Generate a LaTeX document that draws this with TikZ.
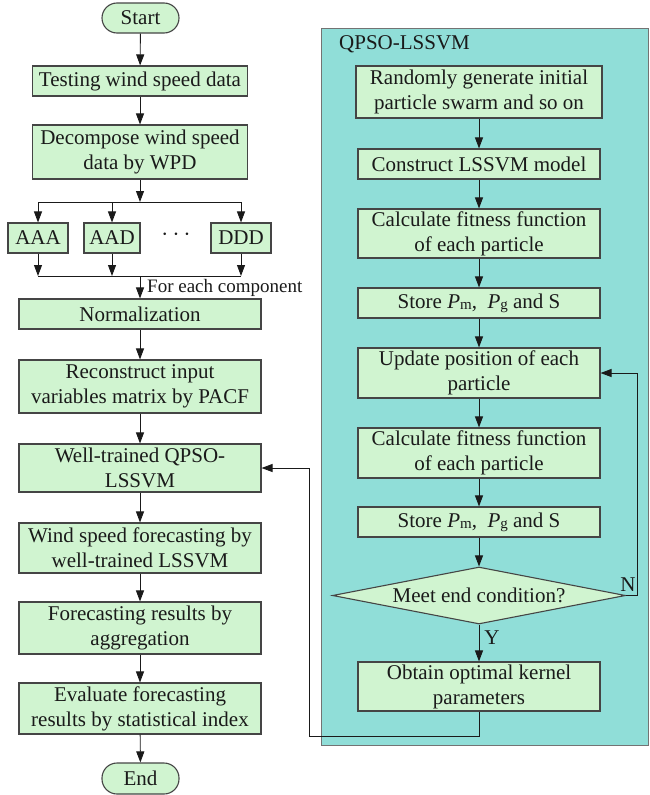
\documentclass[tikz,border=0pt]{standalone}
\usepackage{fontspec}
\setmainfont{Liberation Serif}
\usetikzlibrary{arrows.meta,shapes.geometric}
\definecolor{boxfill}{HTML}{D0F4D0}
\definecolor{panelfill}{HTML}{90DED8}
\definecolor{edgegray}{HTML}{454545}
\definecolor{txt}{HTML}{1A1A1A}
\newcommand{\subsc}[1]{\raisebox{-0.1ex}{\fontsize{15}{15}\selectfont #1}}
\begin{document}
\begin{tikzpicture}[x=1pt,y=-1pt,
  pbox/.style={draw=edgegray, line width=1.1pt, fill=boxfill, align=center, inner sep=1pt,
    text=txt, font=\fontsize{21}{25}\selectfont},
  lbox/.style={pbox, minimum width=242pt},
  rbox/.style={pbox, minimum width=242pt},
  pill/.style={pbox, rounded corners=15pt, minimum width=77pt, minimum height=30pt},
  lbl/.style={text=txt, font=\fontsize{21}{25}\selectfont, inner sep=0pt},
  arr/.style={-{Triangle[length=11pt,width=8pt]}, line width=0.9pt, draw=txt},
  ln/.style={line width=0.9pt, draw=txt}]
\useasboundingbox (0,0) rectangle (649,795);

% right panel
\node[draw=gray!90!black, line width=1.2pt, fill=panelfill, anchor=north west,
  minimum width=327pt, minimum height=717pt, inner sep=0pt] (panel) at (321,28) {};
\node[lbl, anchor=west] (ptitle) at (339,44) {QPSO-LSSVM};

% left column
\node[pill] (start) at (140.5,18) {Start};
\node[pbox, minimum width=215pt, minimum height=30pt] (test) at (140,81) {Testing wind speed data};
\node[pbox, minimum width=215pt, minimum height=54pt] (decomp) at (140,152) {Decompose wind speed\\data by WPD};
\node[pbox, minimum width=60pt, minimum height=30pt] (aaa) at (38,238) {AAA};
\node[pbox, minimum width=56pt, minimum height=30pt] (aad) at (112,238) {AAD};
\node[lbl, font=\fontsize{27}{27}\selectfont] (dots) at (176,235) {$\cdots$};
\node[pbox, minimum width=60pt, minimum height=30pt] (ddd) at (241,238) {DDD};
\node[lbox, minimum height=30pt] (norm) at (140,314) {Normalization};
\node[lbox, minimum height=53pt] (recon) at (140,386.5) {Reconstruct input\\variables matrix by PACF};
\node[lbox, minimum height=48pt] (well) at (140,468) {Well-trained QPSO-\\LSSVM};
\node[lbox, minimum height=50pt] (wind) at (140,548) {Wind speed forecasting by\\well-trained LSSVM};
\node[lbox, minimum height=52pt] (fres) at (140,628) {Forecasting results by\\aggregation};
\node[lbox, minimum height=51pt] (eval) at (140,708.5) {Evaluate forecasting\\results by statistical index};
\node[pill, minimum height=31pt] (end) at (140.5,778.5) {End};
\node[lbl, anchor=west, font=\fontsize{19}{22}\selectfont] (fec) at (147,288) {For each component};

% right column
\node[rbox, minimum width=246pt, minimum height=52pt] (rand) at (479,92) {Randomly generate initial\\particle swarm and so on};
\node[rbox, minimum height=30pt] (cons) at (479,164) {Construct LSSVM model};
\node[rbox, minimum height=49pt] (calc1) at (479,233.5) {Calculate fitness function\\of each particle};
\node[rbox, minimum height=30pt] (store1) at (479,303) {Store \textit{P}\subsc{m}, \ \textit{P}\subsc{g} and S};
\node[rbox, minimum height=50pt] (update) at (479,373) {Update position of each\\particle};
\node[rbox, minimum height=50pt] (calc2) at (479,453) {Calculate fitness function\\of each particle};
\node[rbox, minimum height=30pt] (store2) at (479,522) {Store \textit{P}\subsc{m}, \ \textit{P}\subsc{g} and S};
\node[pbox, diamond, aspect=5.1, inner sep=0pt, minimum width=293pt, minimum height=57pt] (dia) at (479,595.5) {Meet end condition?};
\node[rbox, minimum height=49pt] (obtain) at (479,686.5) {Obtain optimal kernel\\parameters};
\node[lbl] (nlab) at (628,585) {N};
\node[lbl] (ylab) at (492,638) {Y};

% left connectors
\draw[arr] (start) -- (test);
\draw[arr] (test) -- (decomp);
\coordinate (b1) at (140,202);
\coordinate (b2) at (140,276);
\draw[arr] (decomp) -- (b1);
\draw[ln] (b1 -| aaa) -- (b1 -| ddd);
\draw[arr] (b1 -| aaa) -- (aaa);
\draw[arr] (b1 -| aad) -- (aad);
\draw[arr] (b1 -| ddd) -- (ddd);
\draw[arr] (aaa) -- (b2 -| aaa);
\draw[arr] (aad) -- (b2 -| aad);
\draw[arr] (ddd) -- (b2 -| ddd);
\draw[ln] (b2 -| aaa) -- (b2 -| ddd);
\draw[arr] (b2) -- (norm);
\draw[arr] (norm) -- (recon);
\draw[arr] (recon) -- (well);
\draw[arr] (well) -- (wind);
\draw[arr] (wind) -- (fres);
\draw[arr] (fres) -- (eval);
\draw[arr] (eval) -- (end);

% right connectors
\draw[arr] (rand) -- (cons);
\draw[arr] (cons) -- (calc1);
\draw[arr] (calc1) -- (store1);
\draw[arr] (store1) -- (update);
\draw[arr] (update) -- (calc2);
\draw[arr] (calc2) -- (store2);
\draw[arr] (store2) -- (dia);
\draw[arr] (dia) -- (obtain);
\coordinate (nl) at (637,595.5);
\draw[arr] (dia.east) -- (nl) |- (update.east);
\coordinate (fb) at (309,736);
\draw[arr] (obtain.south) |- (fb) |- (well.east);
\end{tikzpicture}
\end{document}
